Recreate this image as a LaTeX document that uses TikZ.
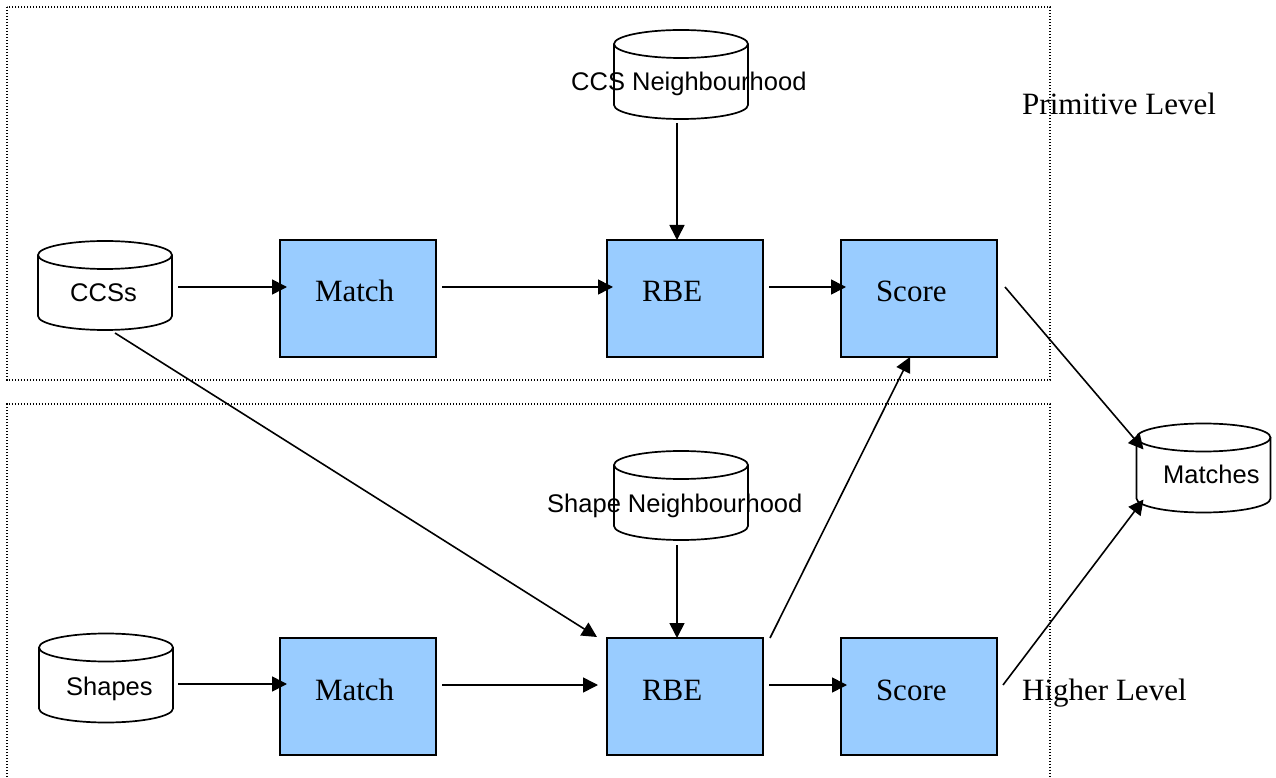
\documentclass[tikz,border=0pt]{standalone}
\usepackage{fontspec}
\setmainfont{Liberation Serif}
\newfontfamily\arialf{Liberation Sans}
\usetikzlibrary{arrows.meta,calc}
\definecolor{boxblue}{HTML}{99CCFF}
\tikzset{
  frame/.style={draw=black, line width=1.2pt, dash pattern=on 1.2pt off 1.8pt},
  procbox/.style={draw=black, line width=2pt, fill=boxblue, minimum width=156pt, minimum height=117pt,
     inner xsep=35pt, inner ysep=0pt, outer sep=0pt, text width=86pt, align=left,
     text height=20pt, text depth=13pt, font=\fontsize{31}{36}\selectfont},
  dbnode/.style={minimum width=134pt, minimum height=89pt, inner sep=0pt, outer sep=0pt},
  dbline/.style={draw=black, line width=1.7pt},
  dbtext/.style={anchor=base west, inner sep=0pt, font=\arialf\fontsize{25.5}{30}\selectfont},
  leveltext/.style={anchor=base west, inner sep=0pt, font=\fontsize{31}{36}\selectfont},
  arr/.style={draw=black, line width=1.6pt, -{Triangle[length=15pt,width=15pt]}},
}
\newcommand{\drawdb}[1]{%
  \draw[dbline] ([yshift=-14pt]#1.north west) -- ([yshift=14pt]#1.south west)
     arc[start angle=180, end angle=360, x radius=67pt, y radius=14pt]
     -- ([yshift=-14pt]#1.north east);
  \draw[dbline] ([yshift=-14pt]#1.north) ellipse [x radius=67pt, y radius=14pt];}
\begin{document}
\begin{tikzpicture}[x=1pt,y=1pt]
\useasboundingbox (0,0) rectangle (1276,777);
\fill[white] (0,0) rectangle (1276,777);
% frames
\draw[frame] (7,770) rectangle (1050,397);
\draw[frame] (7,0) -- (7,373) -- (1050,373) -- (1050,0);
% primitive level
\node[dbnode] (ccs) at (105,491.5) {};
\drawdb{ccs}
\node[dbtext] (ccstxt) at (70,475) {CCSs};
\node[procbox] (match1) at (358,478.5) {Match};
\node[procbox] (rbe1) at (685,478.5) {RBE};
\node[procbox] (score1) at (919,478.5) {Score};
\node[dbnode] (ccsn) at (681,702.5) {};
\drawdb{ccsn}
\node[dbtext] (ccsntxt) at (571,686) {CCS Neighbourhood};
\node[leveltext] (prim) at (1022,662) {Primitive Level};
% matches
\node[dbnode] (matches) at (1203.5,309) {};
\drawdb{matches}
\node[dbtext] (matchestxt) at (1163,294) {Matches};
% higher level
\node[dbnode] (shapes) at (106,99) {};
\drawdb{shapes}
\node[dbtext] (shapestxt) at (66,82) {Shapes};
\node[procbox] (match2) at (358,80.5) {Match};
\node[procbox] (rbe2) at (685,80.5) {RBE};
\node[procbox] (score2) at (919,80.5) {Score};
\node[dbnode] (shapen) at (681,281.5) {};
\drawdb{shapen}
\node[dbtext] (shapentxt) at (547,265) {Shape Neighbourhood};
\node[leveltext] (higher) at (1022,77) {Higher Level};
% connectors
\draw[arr] ($(ccs.east)+(6,-1.5)$) -- ($(match1.west)+(7,11.5)$);
\draw[arr] ($(match1.east)+(6,11.5)$) -- ($(rbe1.west)+(6,11.5)$);
\draw[arr] ($(rbe1.east)+(6,11.5)$) -- ($(score1.west)+(5,11.5)$);
\draw[arr] ($(ccsn.south)+(-4,-4)$) -- ($(rbe1.north)+(-8,0)$);
\draw[arr] ($(score1.east)+(8,11.5)$) -- ($(matches.north west)+(7,-26)$);
\draw[arr] ($(ccs.south)+(10,-3)$) -- ($(rbe2.north west)+(-10,1)$);
\draw[arr] ($(shapes.east)+(5,-6)$) -- ($(match2.west)+(7,12.5)$);
\draw[arr] ($(match2.east)+(6,11.5)$) -- ($(rbe2.west)+(-9,11.5)$);
\draw[arr] ($(shapen.south)+(-4,-5)$) -- ($(rbe2.north)+(-8,0)$);
\draw[arr] ($(rbe2.east)+(6,11.5)$) -- ($(score2.west)+(6,11.5)$);
\draw[arr] ($(rbe2.north east)+(7,0)$) -- ($(score1.south)+(-9,0)$);
\draw[arr] ($(score2.east)+(6,11.5)$) -- ($(matches.south west)+(7,13)$);
\end{tikzpicture}
\end{document}
